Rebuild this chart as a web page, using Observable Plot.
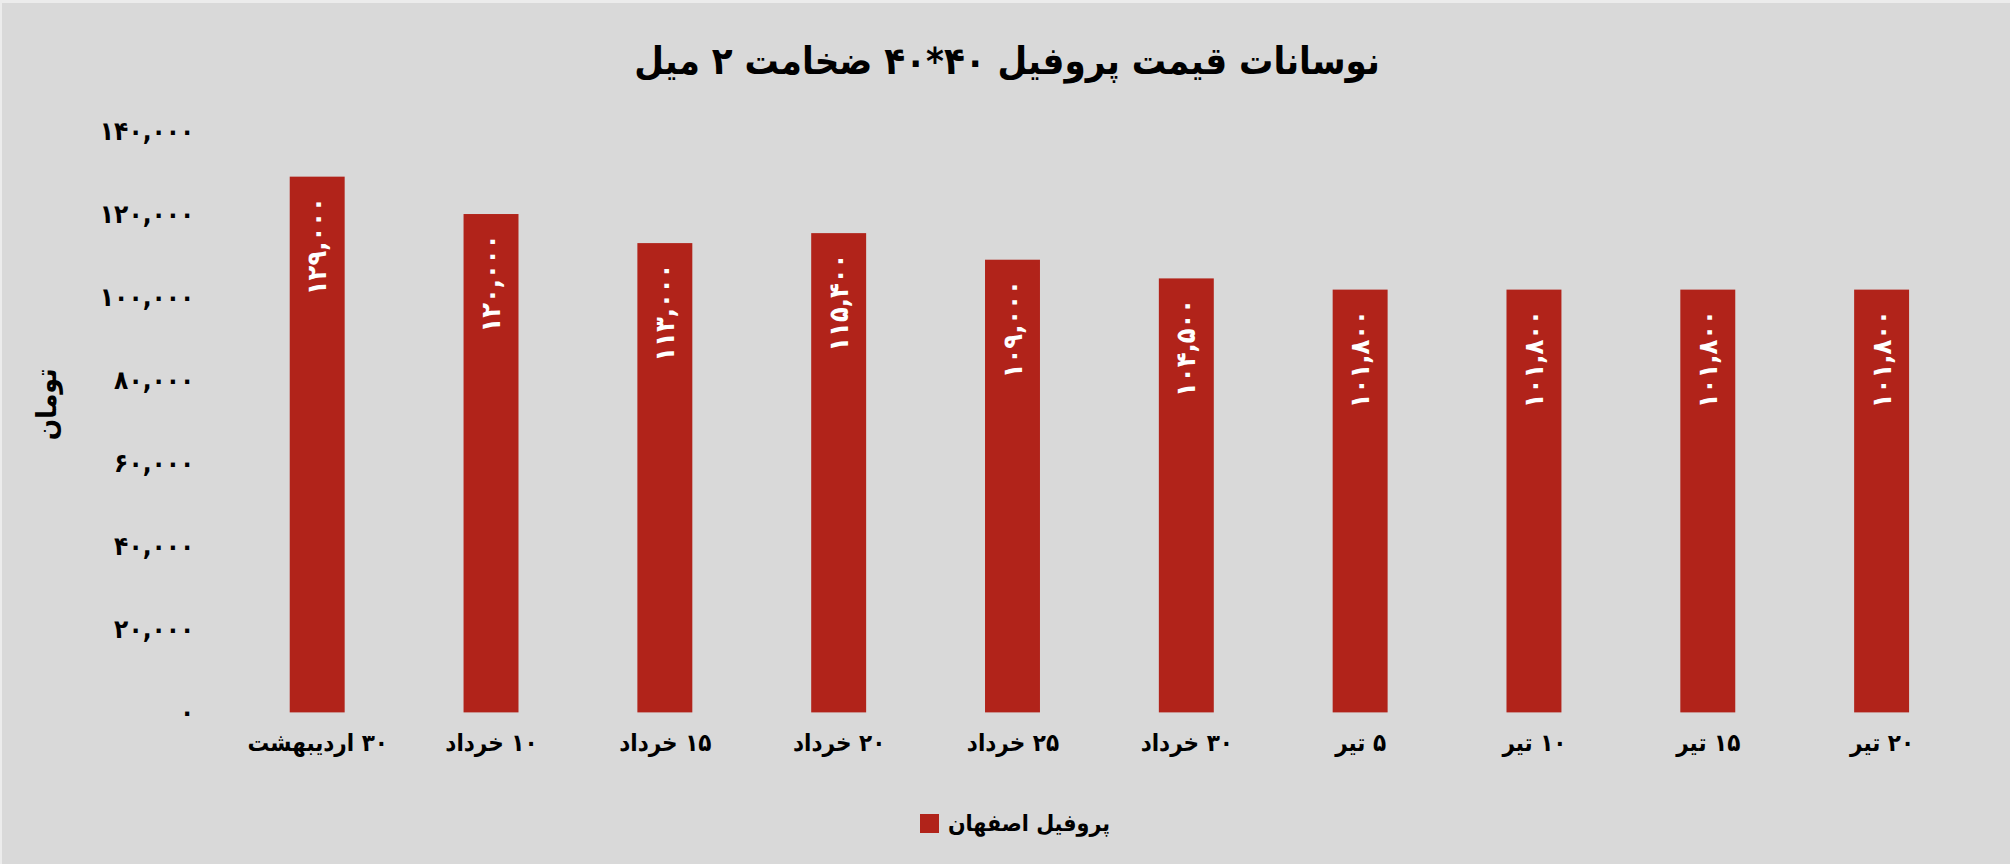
<!DOCTYPE html>
<html>
<head>
<meta charset="utf-8">
<script src="https://cdn.jsdelivr.net/npm/d3@7"></script>
<script src="https://cdn.jsdelivr.net/npm/@observablehq/plot@0.6"></script>
<style>
  html, body { margin: 0; padding: 0; background: #d9d9d9; }
  body {
    position: relative; width: 2010px; height: 864px; overflow: hidden;
    font-family: "DejaVu Sans Condensed", "DejaVu Sans", sans-serif; font-weight: bold;
    box-sizing: border-box; border-top: 3px solid #ececec; border-left: 2px solid #ececec;
  }
  #title {
    position: absolute; left: 0; top: 0; width: 2010px; height: 116px; line-height: 116px;
    text-align: center; font-size: 38px; font-weight: bold; color: #000;
  }
  #chart { position: absolute; left: 0; top: 100px; }
  #legend {
    position: absolute; left: 0; top: 796px; width: 2010px; height: 48px;
    display: flex; justify-content: center; align-items: center; direction: ltr;
  }
  #legend .sw { width: 19px; height: 19px; background: #b1231a; margin-right: 9px; margin-left: 16px; }
  #legend .lb { font-size: 23px; color: #000; }
</style>
</head>
<body>
<div id="title" dir="rtl">نوسانات قیمت پروفیل ۴۰*۴۰ ضخامت ۲ میل</div>
<div id="chart"></div>
<div id="legend"><div class="sw"></div><span class="lb" dir="rtl">پروفیل اصفهان</span></div>
<script>
const categories = ["۳۰ اردیبهشت", "۱۰ خرداد", "۱۵ خرداد", "۲۰ خرداد", "۲۵ خرداد", "۳۰ خرداد", "۵ تیر", "۱۰ تیر", "۱۵ تیر", "۲۰ تیر"];
const prices = [129000, 120000, 113000, 115400, 109000, 104500, 101800, 101800, 101800, 101800];
const yTicks = [0, 20000, 40000, 60000, 80000, 100000, 120000, 140000];
const seriesName = "پروفیل اصفهان";
const yLabel = "تومان";

const faDigits = "۰۱۲۳۴۵۶۷۸۹";
const toFa = s => String(s).replace(/\d/g, d => faDigits[d]);
const fmt = v => toFa(d3.format(",")(v));

const data = categories.map((c, i) => ({category: c, value: prices[i]}));
const barColor = "#b1231a";
const font = `"DejaVu Sans Condensed", "DejaVu Sans", sans-serif`;

const chart = Plot.plot({
  width: 2010,
  height: 680,
  marginLeft: 223,
  marginRight: 36,
  marginTop: 28,
  marginBottom: 70,
  style: {background: "transparent", fontFamily: font, fontWeight: "bold", color: "#000"},
  x: {domain: categories, paddingInner: 0.686, paddingOuter: 0.346, label: null},
  y: {domain: [0, 140000], label: null},
  marks: [
    Plot.barY(data, {x: "category", y: "value", fill: barColor}),
    Plot.text(data, {
      x: "category", y: "value", text: d => fmt(d.value),
      rotate: -90, textAnchor: "end", dy: 20, fill: "white",
      fontSize: 27, fontWeight: "bold"
    }),
    Plot.axisX({tickSize: 0, tickPadding: 21, fontSize: 24, fontWeight: "bold",
      tickFormat: d => "\u200F" + d, label: null}),
    Plot.axisY({ticks: yTicks, tickSize: 0, tickPadding: 31, fontSize: 26, fontWeight: "bold",
      tickFormat: d => fmt(d), label: null}),
    Plot.text([yLabel], {frameAnchor: "left", dx: -178, dy: 18, rotate: -90,
      fontSize: 28, fontWeight: "bold", fill: "#000"})
  ]
});
document.getElementById("chart").appendChild(chart);
</script>
</body>
</html>
